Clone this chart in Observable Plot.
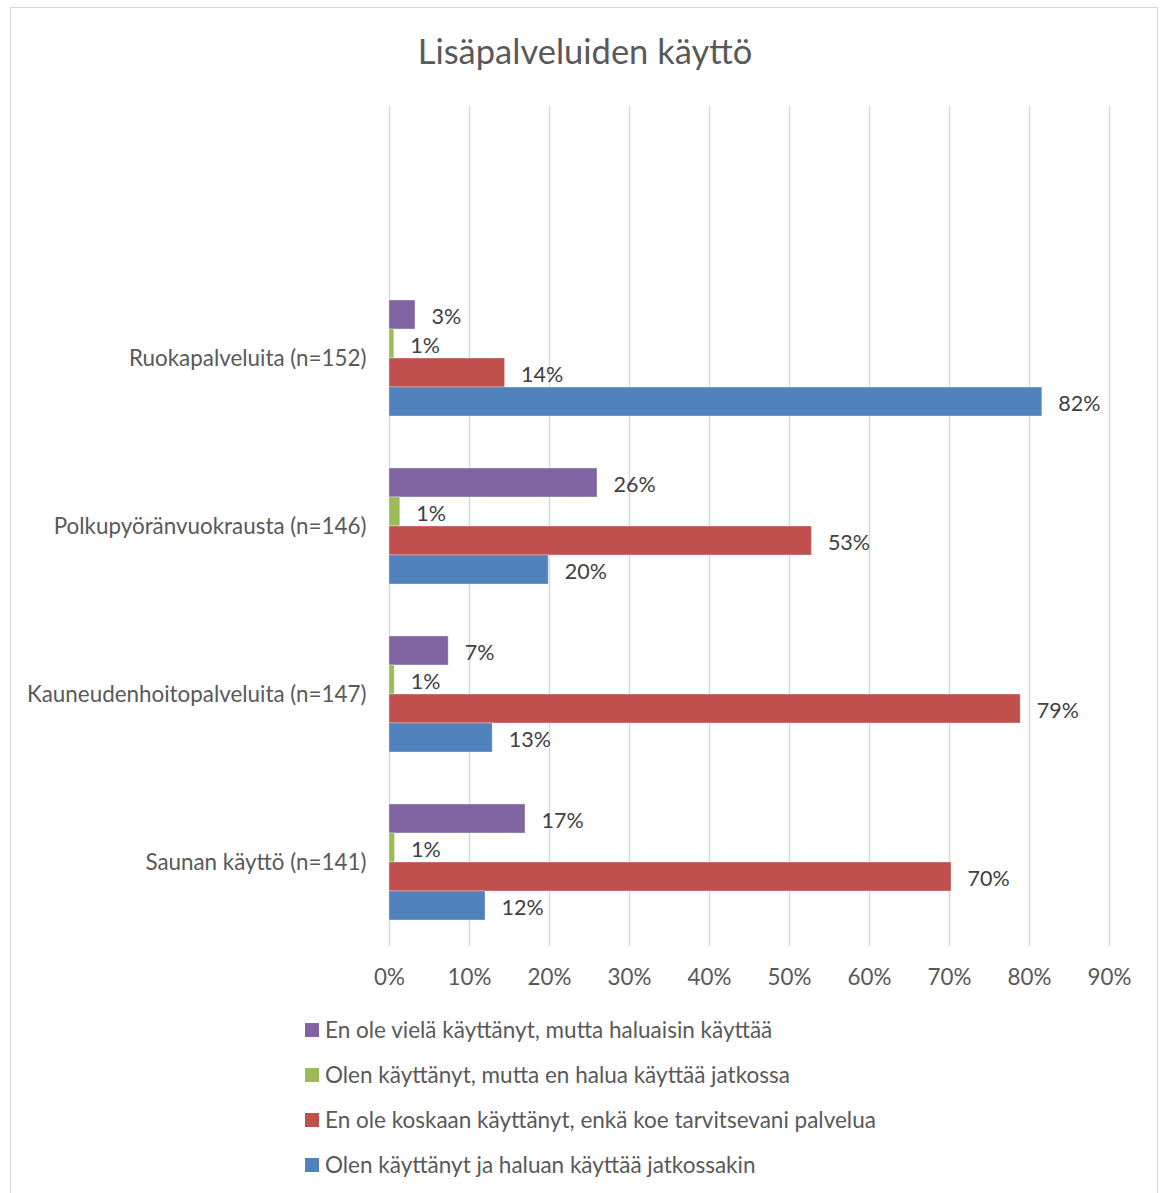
<!DOCTYPE html>
<html>
<head>
<meta charset="utf-8">
<script src="https://cdn.jsdelivr.net/npm/d3@7"></script>
<script src="https://cdn.jsdelivr.net/npm/@observablehq/plot@0.6"></script>
<style>
  html, body { margin: 0; padding: 0; background: #fff; }
  #wrap { position: relative; width: 1165px; height: 1193px; overflow: hidden; font-family: Lato, "Open Sans", sans-serif; }
  #frame { position: absolute; left: 10px; top: 7px; width: 1148px; height: 1300px; border: 1.5px solid #d9d9d9; box-sizing: border-box; }
  #title { position: absolute; left: 0; width: 1170px; top: 30px; text-align: center; font-size: 34.5px; color: #595959; line-height: 42px; }
  #chart { position: absolute; left: 0; top: 0; }
  #legend { position: absolute; left: 305px; top: 1007px; }
  .item { display: flex; align-items: center; height: 45px; font-size: 22.5px; color: #595959; white-space: nowrap; }
  .sw { width: 14px; height: 14px; margin-right: 6px; flex: none; }
</style>
</head>
<body>
<div id="wrap">
  <div id="frame"></div>
  <div id="title"></div>
  <div id="chart"></div>
  <div id="legend"></div>
</div>
<script>
const chartTitle = "Lisäpalveluiden käyttö";
const emptySlot = "";
const categories = [emptySlot, "Ruokapalveluita (n=152)", "Polkupyöränvuokrausta (n=146)", "Kauneudenhoitopalveluita (n=147)", "Saunan käyttö (n=141)"];
const seriesNames = [
  "En ole vielä käyttänyt, mutta haluaisin käyttää",
  "Olen käyttänyt, mutta en halua käyttää jatkossa",
  "En ole koskaan käyttänyt, enkä koe tarvitsevani palvelua",
  "Olen käyttänyt ja haluan käyttää jatkossakin"
];
const seriesColors = ["#8064a2", "#9bbb59", "#c0504d", "#4f81bd"];
// values per category (Ruoka, Polku, Kauneus, Sauna), in percent
const haluaisinKayttaa = [3.25, 26.0, 7.4, 17.0];
const enHaluaJatkossa = [0.6, 1.35, 0.65, 0.7];
const enTarvitse = [14.45, 52.8, 78.9, 70.25];
const haluanJatkossakin = [81.6, 19.9, 12.9, 12.0];
const xTicks = [0, 10, 20, 30, 40, 50, 60, 70, 80, 90];

const seriesValues = [haluaisinKayttaa, enHaluaJatkossa, enTarvitse, haluanJatkossakin];
const rows = [];
seriesNames.forEach((s, si) => {
  rows.push({category: emptySlot, series: s, value: null});
  categories.slice(1).forEach((c, ci) => rows.push({category: c, series: s, value: seriesValues[si][ci]}));
});

document.getElementById("title").textContent = chartTitle;

const chart = Plot.plot({
  width: 1165,
  height: 1000,
  marginLeft: 389,
  marginRight: 56,
  marginTop: 106,
  marginBottom: 54,
  style: {fontFamily: "Lato, 'Open Sans', sans-serif", fontSize: "22.4px", color: "#595959", background: "transparent", overflow: "visible"},
  facet: {data: rows, y: "category"},
  fy: {domain: categories, padding: 0, round: false, label: null, tickSize: 0, tickPadding: 23},
  y: {domain: seriesNames, axis: null, paddingInner: 0, paddingOuter: 0.897, round: false},
  x: {domain: [0, 90], ticks: xTicks, tickFormat: d => d + "%", tickSize: 0, tickPadding: 23, label: null},
  color: {domain: seriesNames, range: seriesColors},
  marks: [
    Plot.ruleX(xTicks, {stroke: "#d9d9d9", strokeWidth: 1.5}),
    Plot.barX(rows, {y: "series", x: "value", fill: "series", stroke: "#ffffff", strokeOpacity: 0.35, strokeWidth: 1}),
    Plot.text(rows, {y: "series", x: "value", text: d => d.value == null ? "" : Math.round(d.value) + "%", textAnchor: "start", dx: 16, dy: 2, fill: "#404040", fontSize: 21.5})
  ]
});
document.getElementById("chart").appendChild(chart);

const legend = document.getElementById("legend");
seriesNames.forEach((s, i) => {
  const item = document.createElement("div");
  item.className = "item";
  const sw = document.createElement("span");
  sw.className = "sw";
  sw.style.background = seriesColors[i];
  const t = document.createElement("span");
  t.textContent = s;
  item.appendChild(sw);
  item.appendChild(t);
  legend.appendChild(item);
});
</script>
</body>
</html>
